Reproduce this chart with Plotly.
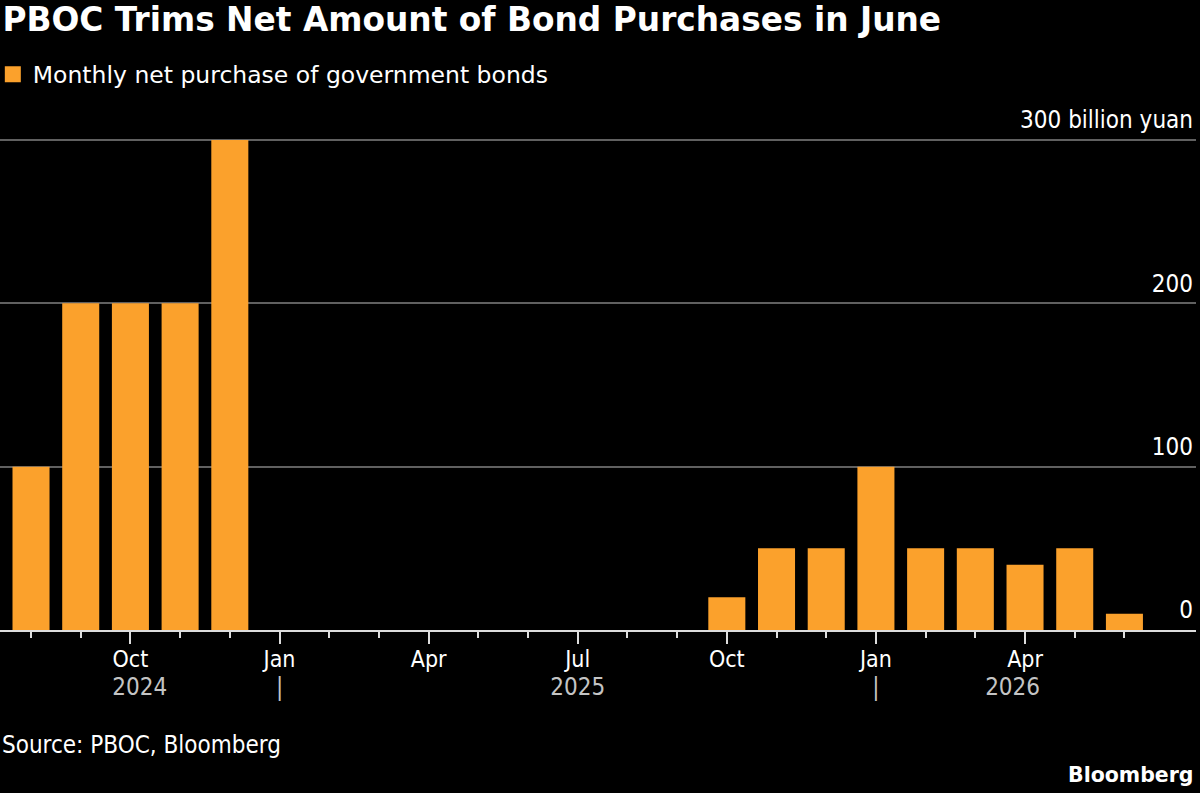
"""Bar chart of the PBOC's monthly net government bond purchases."""

import pandas as pd
import plotly.graph_objects as go

MONTHS = [
    "2024-08", "2024-09", "2024-10", "2024-11", "2024-12",
    "2025-01", "2025-02", "2025-03", "2025-04", "2025-05", "2025-06",
    "2025-07", "2025-08", "2025-09", "2025-10", "2025-11", "2025-12",
    "2026-01", "2026-02", "2026-03", "2026-04", "2026-05", "2026-06",
]
NET_PURCHASE = [
    100, 200, 200, 200, 300,
    0, 0, 0, 0, 0, 0,
    0, 0, 0, 20, 50, 50,
    100, 50, 50, 40, 50, 10,
]
SERIES_NAME = "Monthly net purchase of government bonds"
Y_TICKS = [0, 100, 200, 300]
Y_TICK_TEXT = ["0", "100", "200", "300 billion yuan"]

ORANGE = "#FBA12C"
FONT = "DejaVu Sans Condensed, Liberation Sans Narrow, DejaVu Sans"
WIDE_FONT = "DejaVu Sans"


def plot_purchases(output_html: str = "out.html") -> go.Figure:
    """Build the bar chart and write it to HTML."""

    dates = pd.to_datetime(MONTHS)
    x = list(range(len(dates)))

    # month labels only on quarter starts, minor ticks every month
    quarter_idx = [i for i, d in enumerate(dates) if d.month in (1, 4, 7, 10)]
    quarter_text = [dates[i].strftime("%b") for i in quarter_idx]

    # year row: year names centred on their span, "|" at each January
    x_range = [-0.624, len(x) + 0.44]
    jan_idx = [i for i, d in enumerate(dates) if d.month == 1]
    years = sorted(set(dates.year))
    bounds = [x_range[0]] + jan_idx + [len(x) - 0.5]
    year_pos = [(bounds[k] + bounds[k + 1]) / 2 for k in range(len(years))]
    year_vals = year_pos + jan_idx
    year_text = [str(y) for y in years] + ["|"] * len(jan_idx)

    fig = go.Figure()
    fig.add_trace(
        go.Bar(
            x=x,
            y=NET_PURCHASE,
            name=SERIES_NAME,
            showlegend=False,
            marker=dict(color=ORANGE, line=dict(width=0)),
            hovertext=[d.strftime("%b %Y") for d in dates],
        )
    )
    # legend entry with a bigger square swatch than the bar legend gives
    fig.add_trace(
        go.Scatter(
            x=[None], y=[None], mode="markers", name=SERIES_NAME,
            marker=dict(symbol="square", size=16, color=ORANGE),
        )
    )
    # invisible trace so the year axis gets drawn
    fig.add_trace(
        go.Scatter(
            x=x, y=NET_PURCHASE, xaxis="x2", mode="markers",
            marker=dict(opacity=0), showlegend=False, hoverinfo="skip",
        )
    )

    fig.update_layout(
        width=1200,
        height=793,
        paper_bgcolor="black",
        plot_bgcolor="black",
        # a little headroom above 300 so its gridline isn't clipped
        margin=dict(l=0, r=4, t=135, b=163, autoexpand=False),
        bargap=0.255,
        font=dict(family=FONT, color="white", size=23),
        title=dict(
            text="<b>PBOC Trims Net Amount of Bond Purchases in June</b>",
            font=dict(family=WIDE_FONT, size=32.8, color="white"),
            x=0.002, xanchor="left", xref="container",
            y=0.975, yanchor="middle", yref="container",
        ),
        showlegend=True,
        legend=dict(
            x=-0.006, xref="paper", xanchor="left",
            y=0.906, yref="container", yanchor="middle",
            font=dict(family=WIDE_FONT, size=23.5, color="white"),
            itemsizing="trace",
            bgcolor="rgba(0,0,0,0)",
        ),
        xaxis=dict(
            range=x_range,
            showgrid=False,
            zeroline=False,
            showline=True,
            linecolor="#dddddd",
            linewidth=2,
            tickmode="array",
            tickvals=quarter_idx,
            ticktext=quarter_text,
            ticks="outside",
            ticklen=12,
            tickwidth=2,
            tickcolor="#dddddd",
            ticklabelstandoff=-5,
            minor=dict(tickvals=x, ticks="outside", ticklen=6,
                       tickwidth=2, tickcolor="#dddddd"),
            tickfont=dict(size=23, color="white"),
        ),
        xaxis2=dict(
            overlaying="x",
            anchor="y",
            side="bottom",
            range=x_range,
            showgrid=False,
            zeroline=False,
            showline=False,
            tickmode="array",
            tickvals=year_vals,
            ticktext=year_text,
            ticks="outside",
            ticklen=35,
            tickcolor="rgba(0,0,0,0)",
            tickfont=dict(size=24, color="#c4c4c4"),
        ),
        yaxis=dict(
            range=[0, 303],
            side="right",
            tickmode="array",
            tickvals=Y_TICKS,
            ticktext=Y_TICK_TEXT,
            ticklabelposition="inside",
            ticklabeloverflow="allow",
            ticklabelshift=-20,
            showgrid=True,
            gridcolor="#606060",
            gridwidth=1.5,
            zeroline=False,
            tickfont=dict(size=24, color="white"),
        ),
        annotations=[
            dict(
                text="Source: PBOC, Bloomberg",
                x=0.0, xref="paper", xanchor="left",
                y=-0.232, yref="paper", yanchor="middle",
                showarrow=False, font=dict(size=24, color="white"),
            ),
            dict(
                text="<b>Bloomberg</b>",
                x=1.0, xref="paper", xanchor="right",
                y=-0.292, yref="paper", yanchor="middle",
                showarrow=False,
                font=dict(family=WIDE_FONT, size=20.5, color="white"),
            ),
        ],
    )

    # page body has a default 8px margin; drop it so the chart fills the window
    fig.write_html(
        output_html,
        config={"displayModeBar": False},
        post_script="document.body.style.margin='0';"
        "document.body.style.background='black';",
    )
    return fig


if __name__ == "__main__":
    plot_purchases()
